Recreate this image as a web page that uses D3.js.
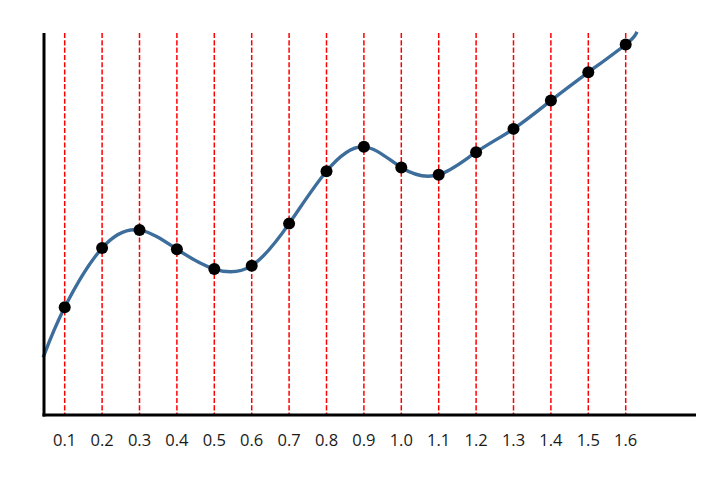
<!DOCTYPE html>
<html>
<head>
<meta charset="utf-8">
<script src="https://cdn.jsdelivr.net/npm/d3@7"></script>
<style>
  html, body { margin: 0; padding: 0; background: #fff; }
  svg { display: block; }
</style>
</head>
<body>
<svg id="chart" width="727" height="486"></svg>
<script>
// Data
const xValues = [0.1, 0.2, 0.3, 0.4, 0.5, 0.6, 0.7, 0.8, 0.9, 1.0, 1.1, 1.2, 1.3, 1.4, 1.5, 1.6];
const yValues = [2.82, 4.37, 4.84, 4.34, 3.82, 3.91, 5.01, 6.38, 7.02, 6.48, 6.29, 6.88, 7.49, 8.23, 8.97, 9.70];
const tickLabels = ["0.1","0.2","0.3","0.4","0.5","0.6","0.7","0.8","0.9","1.0","1.1","1.2","1.3","1.4","1.5","1.6"];
// curve extends slightly beyond first and last points
const curveStart = { x: 0.044, y: 1.55 };
const curveEnd = { x: 1.628, y: 9.99 };

const svg = d3.select("#chart");
const axisLeftX = 44, axisBottomY = 415, axisTopY = 33, axisRightX = 696;

const x = d3.scaleLinear().domain([0, 1.6]).range([27.3, 625.7]);
const y = d3.scaleLinear().domain([0, 10]).range([415, 33]);

// red dashed verticals
svg.append("g").selectAll("line").data(xValues).join("line")
  .attr("x1", d => x(d)).attr("x2", d => x(d))
  .attr("y1", axisTopY).attr("y2", axisBottomY)
  .attr("stroke", "#ff0000").attr("stroke-width", 1.5)
  .attr("stroke-dasharray", "5.1,2.2");

// curve
const pts = [curveStart].concat(xValues.map((v, i) => ({ x: v, y: yValues[i] })), [curveEnd]);
const line = d3.line().x(d => x(d.x)).y(d => y(d.y)).curve(d3.curveNatural);
svg.append("path").datum(pts)
  .attr("d", line)
  .attr("fill", "none")
  .attr("stroke", "#3d6d9b")
  .attr("stroke-width", 3.4)
  .attr("stroke-linecap", "square");

// points
svg.append("g").selectAll("circle").data(xValues).join("circle")
  .attr("cx", d => x(d)).attr("cy", (d, i) => y(yValues[i]))
  .attr("r", 6).attr("fill", "#000");

// axes lines
svg.append("line").attr("x1", axisLeftX).attr("x2", axisLeftX)
  .attr("y1", axisTopY).attr("y2", axisBottomY + 1.5)
  .attr("stroke", "#000").attr("stroke-width", 3);
svg.append("line").attr("x1", axisLeftX - 1.5).attr("x2", axisRightX)
  .attr("y1", axisBottomY).attr("y2", axisBottomY)
  .attr("stroke", "#000").attr("stroke-width", 3);

// tick labels
svg.append("g").selectAll("text").data(xValues).join("text")
  .attr("x", d => x(d)).attr("y", 446)
  .attr("text-anchor", "middle")
  .attr("font-family", "'Open Sans', sans-serif")
  .attr("font-size", 16.5)
  .attr("fill", "#1a1a1a")
  .text((d, i) => tickLabels[i]);
</script>
</body>
</html>
